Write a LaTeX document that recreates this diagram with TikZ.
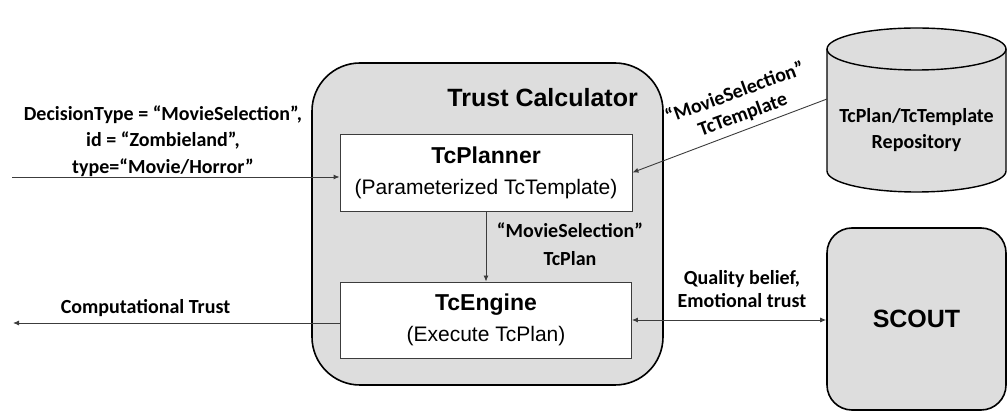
\documentclass[tikz,border=0pt]{standalone}
\usepackage{fontspec}
\setmainfont{Carlito}
\newfontfamily\arial{Liberation Sans}
\usetikzlibrary{arrows.meta}
\definecolor{tcgray}{RGB}{221,221,221}
\definecolor{linegray}{RGB}{60,60,60}
\tikzset{
  outerbox/.style={draw=black, fill=tcgray, line width=1.6pt, inner sep=0pt},
  innerbox/.style={draw=linegray, fill=white, line width=0.9pt, inner sep=0pt, align=center,
    font=\arial\fontsize{21}{31}\selectfont},
  arr/.style={draw=linegray, line width=0.9pt, -{Latex[length=6pt,width=5pt]}},
  biarr/.style={draw=linegray, line width=0.9pt, {Latex[length=6pt,width=5pt]}-{Latex[length=6pt,width=5pt]}},
  lbl/.style={align=center, inner sep=0pt, font=\bfseries\fontsize{20}{26}\selectfont},
}
\begin{document}
\begin{tikzpicture}[x=1pt,y=-1pt]
\useasboundingbox (0,0) rectangle (1007,411);

% Trust Calculator container
\node[outerbox, rounded corners=48pt, minimum width=351pt, minimum height=322pt] (tc) at (487.5,224) {};
\node[anchor=east, inner sep=0pt, font=\arial\bfseries\fontsize{25}{30}\selectfont] (tctitle) at (638,98) {Trust Calculator};

% inner boxes
\node[innerbox, minimum width=292pt, minimum height=77pt] (planner) at (486,172.5)
  {{\fontsize{23}{31}\selectfont\bfseries TcPlanner}\\(Parameterized TcTemplate)};
\node[innerbox, minimum width=291pt, minimum height=76pt] (engine) at (486,320)
  {{\fontsize{23}{31}\selectfont\bfseries TcEngine}\\(Execute TcPlan)};

% Repository cylinder
\fill[tcgray] (827,49) -- (827,171) arc[start angle=180, end angle=360, x radius=89.5, y radius=-21]
  -- (1006,49) arc[start angle=0, end angle=180, x radius=89.5, y radius=-21] -- cycle;
\draw[black, line width=1.4pt] (827,49) -- (827,171) arc[start angle=180, end angle=360, x radius=89.5, y radius=-21]
  -- (1006,49);
\draw[black, line width=1.4pt] (916.5,49) ellipse[x radius=89.5, y radius=21];
\node[lbl] (repo) at (916.5,130) {TcPlan/TcTemplate\\Repository};
\coordinate (repoL) at (827,99);

% SCOUT
\node[outerbox, rounded corners=25pt, minimum width=179pt, minimum height=182pt,
  font=\arial\bfseries\fontsize{25}{30}\selectfont] (scout) at (916.5,319) {SCOUT};

% free ends
\coordinate (inL) at (12,177);
\coordinate (outL) at (13,323);

% connectors
\draw[arr] (inL) -- (inL -| planner.west);
\draw[arr] (repoL) -- (planner.east);
\draw[arr] (planner.south) -- (engine.north);
\draw[arr] (engine.west |- outL) -- (outL);
\draw[biarr] (engine.east) -- (engine.east -| scout.west);

% labels
\node[lbl, font=\bfseries\fontsize{20}{26.5}\selectfont] (inlbl) at (163,141)
  {DecisionType = “MovieSelection”,\\id = “Zombieland”,\\type=“Movie/Horror”};
\node[lbl, anchor=base] (outlbl) at (145.5,314) {Computational Trust};
\node[lbl, font=\bfseries\fontsize{20}{28}\selectfont] (planlbl) at (570,244) {“MovieSelection”\\TcPlan};
\node[lbl, font=\bfseries\fontsize{20}{23}\selectfont] (qlbl) at (742,289) {Quality belief,\\Emotional trust};
\node[lbl, font=\bfseries\fontsize{20}{23}\selectfont, rotate=20] (tmpllbl) at (739,104) {“MovieSelection”\\TcTemplate};
\end{tikzpicture}
\end{document}
